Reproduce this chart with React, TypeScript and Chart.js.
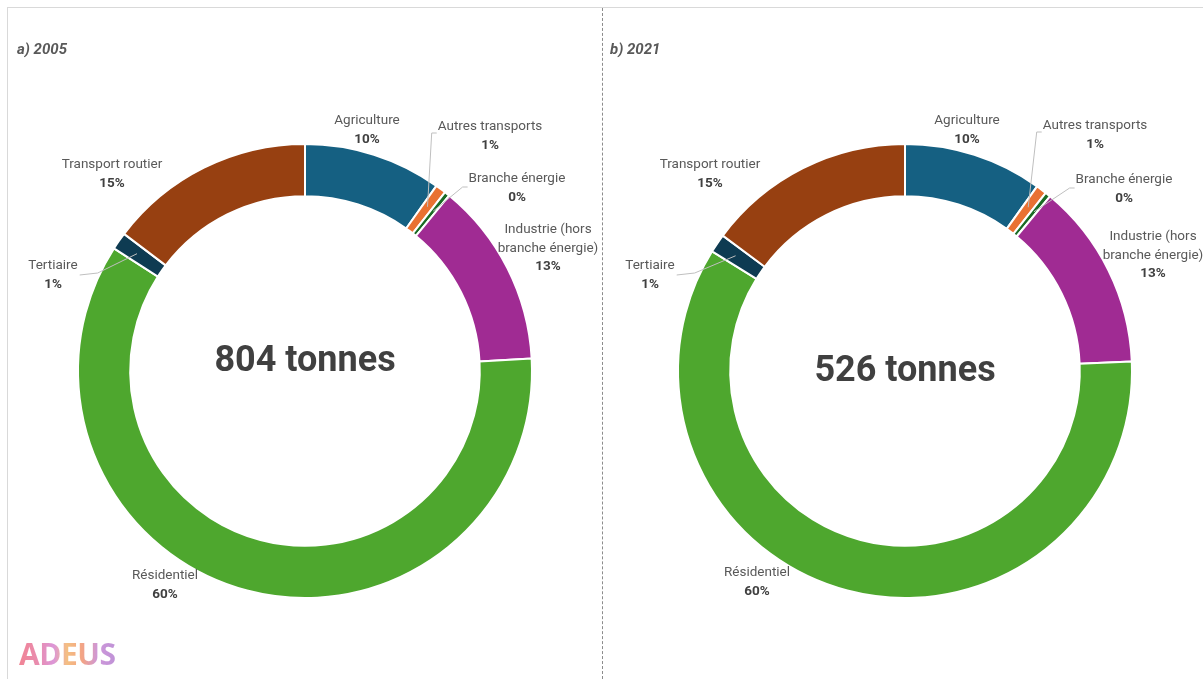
import React, { useEffect, useRef } from "react";
import { Chart, registerables } from "chart.js";

Chart.register(...registerables);

// ---------- DATA ----------
const categories = [
  "Agriculture",
  "Autres transports",
  "Branche énergie",
  "Industrie (hors\nbranche énergie)",
  "Résidentiel",
  "Tertiaire",
  "Transport routier",
];
const values2005 = [79, 6, 3, 106, 482, 10, 118];
const values2021 = [52, 4, 2, 70, 313, 7, 78];
const panelTitles = ["a) 2005", "b) 2021"];
const unitLabel = "tonnes";

// ---------- STYLE / LAYOUT ----------
const colors = ["#156082", "#E97132", "#196B24", "#A02B93", "#4EA72E", "#0E3B52", "#974011"];
const FONT = "Roboto";
// label block centre offsets relative to the donut centre (first line middle)
const labelPos2005 = [[62, -250], [185, -244], [212, -192], [243, -141], [-140, 205], [-252, -105], [-193, -206]];
const labelPos2021 = [[62, -250], [190, -245], [219, -191], [248, -134], [-148, 202], [-255, -105], [-195, -206]];

type PanelCfg = {
  values: number[];
  title: string;
  labelPos: number[][];
  titleX: number;
  centerDy: number;
  padLeft: number;
};

function makePlugin(cfg: PanelCfg) {
  return {
    id: "donutDecor",
    afterDraw(chart: any) {
      const ctx: CanvasRenderingContext2D = chart.ctx;
      const meta = chart.getDatasetMeta(0);
      const arcs = meta.data;
      if (!arcs.length) return;
      const cx = arcs[0].x;
      const cy = arcs[0].y;
      const total = cfg.values.reduce((a, b) => a + b, 0);
      ctx.save();
      // title
      ctx.fillStyle = "#595959";
      ctx.font = `italic bold 15px ${FONT}`;
      ctx.textAlign = "left";
      ctx.textBaseline = "middle";
      ctx.fillText(cfg.title, cfg.titleX, 50);

      // centre text
      ctx.fillStyle = "#404040";
      ctx.font = `bold 36px ${FONT}`;
      ctx.textAlign = "center";
      ctx.fillText(`${total} ${unitLabel}`, cx, cy + cfg.centerDy);

      // labels
      const lh = 18.5;
      categories.forEach((cat, i) => {
        const lines = cat.split("\n");
        const [dx, dy] = cfg.labelPos[i];
        const lx = cx + dx;
        const ly = cy + dy;
        ctx.textAlign = "center";
        ctx.textBaseline = "middle";
        ctx.font = `13.5px ${FONT}`;
        ctx.fillStyle = "#595959";
        let maxW = 0;
        lines.forEach((ln, k) => {
          ctx.fillText(ln, lx, ly + k * lh);
          maxW = Math.max(maxW, ctx.measureText(ln).width);
        });
        ctx.font = `bold 13.5px ${FONT}`;
        ctx.fillStyle = "#404040";
        const pct = Math.round((cfg.values[i] / total) * 100);
        ctx.fillText(`${pct}%`, lx, ly + lines.length * lh);

        // leader lines for thin slices
        const arc = arcs[i];
        const mid = (arc.startAngle + arc.endAngle) / 2;
        const r = (arc.innerRadius + arc.outerRadius) / 2 + 4;
        const ax = cx + Math.cos(mid) * r;
        const ay = cy + Math.sin(mid) * r;
        const left = lx - maxW / 2;
        const right = lx + maxW / 2;
        let pts: number[][] | null = null;
        if (i === 1) pts = [[ax, ay], [left - 6, ly + 6], [left - 1, ly + 6]];
        if (i === 2) pts = [[ax, ay], [left - 6, ly + 8], [left - 1, ly + 8]];
        if (i === 5) pts = [[ax, ay], [right + 20, ly + 7], [right + 2, ly + 9]];
        if (pts) {
          ctx.strokeStyle = "#bfbfbf";
          ctx.lineWidth = 1;
          ctx.beginPath();
          ctx.moveTo(pts[0][0], pts[0][1]);
          for (let k = 1; k < pts.length; k++) ctx.lineTo(pts[k][0], pts[k][1]);
          ctx.stroke();
        }
      });
      ctx.restore();
    },
  };
}

function DonutPanel({ cfg, width, height }: { cfg: PanelCfg; width: number; height: number }) {
  const ref = useRef<HTMLCanvasElement | null>(null);
  useEffect(() => {
    if (!ref.current) return;
    const chart = new Chart(ref.current, {
      type: "doughnut",
      data: {
        labels: categories.map((c) => c.replace("\n", " ")),
        datasets: [
          {
            data: cfg.values,
            backgroundColor: colors,
            borderColor: "#ffffff",
            borderWidth: 2,
          },
        ],
      },
      options: {
        responsive: false,
        animation: false,
        devicePixelRatio: 1,
        radius: 227,
        cutout: "77%",
        layout: { padding: { left: cfg.padLeft, right: 0, top: 63, bottom: 0 } },
        plugins: {
          legend: { display: false },
          tooltip: { enabled: false },
          title: { display: false },
        },
      } as any,
      plugins: [makePlugin(cfg)],
    });
    return () => chart.destroy();
  }, [cfg]);
  return <canvas ref={ref} width={width} height={height} style={{ display: "block", width, height }} />;
}

const cfgLeft: PanelCfg = {
  values: values2005,
  title: panelTitles[0],
  labelPos: labelPos2005,
  titleX: 17,
  centerDy: -9,
  padLeft: 8,
};
const cfgRight: PanelCfg = {
  values: values2021,
  title: panelTitles[1],
  labelPos: labelPos2021,
  titleX: 7,
  centerDy: 1,
  padLeft: 4,
};

export default function App() {
  return (
    <div
      style={{
        position: "absolute",
        left: 0,
        top: 0,
        width: 1203,
        height: 679,
        overflow: "hidden",
        background: "#ffffff",
      }}
    >
      <div style={{ position: "absolute", left: 0, top: 0 }}>
        <DonutPanel cfg={cfgLeft} width={602} height={679} />
      </div>
      <div style={{ position: "absolute", left: 603, top: 0 }}>
        <DonutPanel cfg={cfgRight} width={600} height={679} />
      </div>
      {/* frame */}
      <div style={{ position: "absolute", left: 7, top: 7, width: 1196, height: 0, borderTop: "1px solid #d9d9d9" }} />
      <div style={{ position: "absolute", left: 7, top: 7, width: 0, height: 672, borderLeft: "1px solid #d9d9d9" }} />
      <div
        style={{
          position: "absolute",
          left: 602,
          top: 8,
          width: 0,
          height: 671,
          borderLeft: "1px dashed #8c8c8c",
        }}
      />
      <div
        style={{
          position: "absolute",
          left: 19,
          top: 636,
          fontFamily: "'Open Sans', sans-serif",
          fontWeight: 700,
          fontSize: 30,
          lineHeight: "36px",
          letterSpacing: -0.5,
          background:
            "linear-gradient(90deg, #ef6f82 0%, #e47aa6 22%, #d684d2 36%, #f3b46c 50%, #f19470 66%, #c586d4 82%, #b57fd0 100%)",
          WebkitBackgroundClip: "text",
          backgroundClip: "text",
          color: "transparent",
          opacity: 0.85,
        }}
      >
        ADEUS
      </div>
    </div>
  );
}
